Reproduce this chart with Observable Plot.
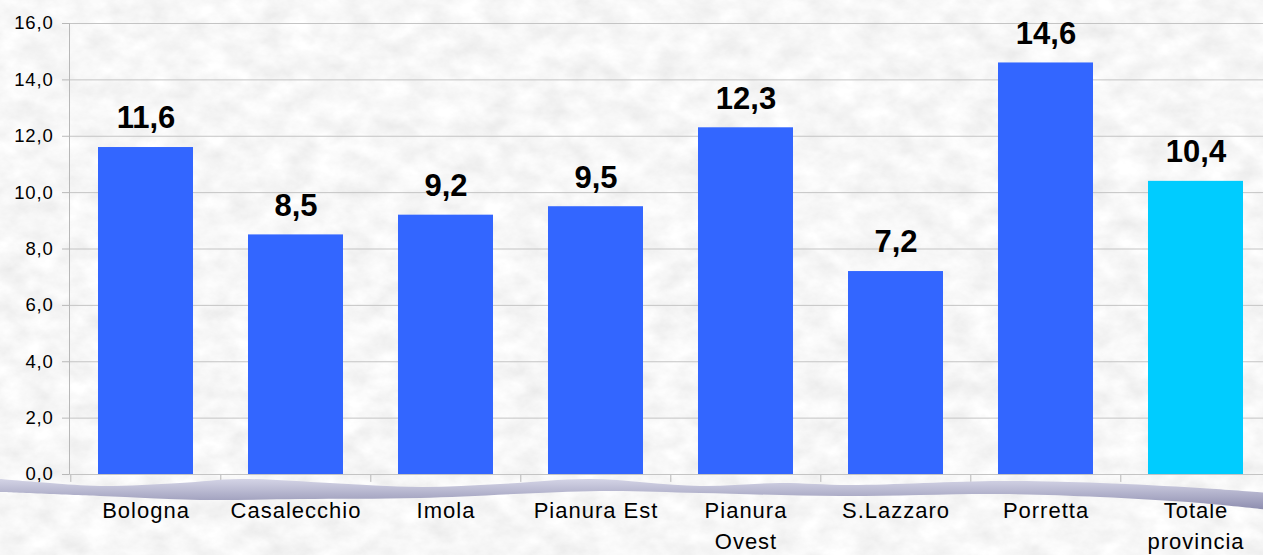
<!DOCTYPE html>
<html>
<head>
<meta charset="utf-8">
<script src="https://cdn.jsdelivr.net/npm/d3@7"></script>
<script src="https://cdn.jsdelivr.net/npm/@observablehq/plot@0.6"></script>
<style>
  html, body { margin: 0; padding: 0; background: #ececec; overflow: hidden; }
  #chart svg { display: block; }
  g[aria-label="x-axis tick label"] text { letter-spacing: 1px; }
  g[aria-label="y-axis tick label"] text { letter-spacing: 0.8px; }
</style>
</head>
<body>
<div id="chart"></div>
<script>
// ---- data ----
const categories = ["Bologna", "Casalecchio", "Imola", "Pianura Est", "Pianura Ovest", "S.Lazzaro", "Porretta", "Totale provincia"];
const values = [11.6, 8.5, 9.2, 9.5, 12.3, 7.2, 14.6, 10.4];
const groups = ["Distretto", "Distretto", "Distretto", "Distretto", "Distretto", "Distretto", "Distretto", "Provincia"];
const tickLabels = ["Bologna", "Casalecchio", "Imola", "Pianura Est", "Pianura\nOvest", "S.Lazzaro", "Porretta", "Totale\nprovincia"];
const yTicks = [0, 2, 4, 6, 8, 10, 12, 14, 16];

const data = categories.map((c, i) => ({category: c, value: values[i], group: groups[i]}));
const fmt = v => v.toFixed(1).replace(".", ",");

const W = 1263, H = 555;
const xRange = [41.6, 1300];
const pad = 0.368;
const step = (xRange[1] - xRange[0]) / (categories.length + pad);

const chart = Plot.plot({
  width: W,
  height: H,
  marginLeft: 69,
  marginRight: 0,
  marginTop: 23,
  marginBottom: 81,
  style: {fontFamily: "'Liberation Sans', Arial, sans-serif", background: "transparent", color: "black", overflow: "visible"},
  x: {domain: categories, range: xRange, padding: pad, label: null},
  y: {domain: [0, 16], label: null},
  color: {domain: ["Distretto", "Provincia"], range: ["#3366FF", "#00CCFF"]},
  marks: [
    Plot.gridY({ticks: yTicks, stroke: "#c4c4c4", strokeOpacity: 1}),
    Plot.frame({anchor: "left", stroke: "#b8b8b8"}),
    Plot.axisY({ticks: yTicks, tickFormat: fmt, tickSize: 7, tickPadding: 9, fontSize: 18.5, stroke: "#b8b8b8", label: null}),
    Plot.ruleX(categories, {x: d => d, y1: 0, y2: -0.28, dx: -step / 2, stroke: "#b8b8b8"}),
    Plot.ruleY([0], {stroke: "#c4c4c4"}),
    Plot.barY(data, {x: "category", y: "value", fill: "group"}),
    Plot.text(data, {x: "category", y: "value", text: d => fmt(d.value), dy: -29, fontSize: 31, fontWeight: "bold", fill: "black"}),
    Plot.axisX({tickSize: 0, tickPadding: 21, fontSize: 22, lineHeight: 1.42, label: null,
      tickFormat: d => tickLabels[categories.indexOf(d)]})
  ]
});

document.getElementById("chart").appendChild(chart);

// ---- decoration: marble background and wavy ribbon ----
const svg = d3.select(chart);
const defs = svg.insert("defs", ":first-child");
const f = defs.append("filter").attr("id", "marble").attr("x", 0).attr("y", 0).attr("width", 1).attr("height", 1);
f.append("feTurbulence").attr("type", "fractalNoise").attr("baseFrequency", "0.035 0.05").attr("numOctaves", 5).attr("seed", 7);
f.append("feColorMatrix").attr("type", "matrix")
  .attr("values", "0.24 0 0 0 0.81  0.24 0 0 0 0.81  0.24 0 0 0 0.81  0 0 0 0 1");
const g = defs.append("linearGradient").attr("id", "ribbon").attr("x1", 0).attr("y1", 0).attr("x2", 0).attr("y2", 1);
g.append("stop").attr("offset", "0%").attr("stop-color", "#d4d4e6");
g.append("stop").attr("offset", "100%").attr("stop-color", "#8c8cae");

svg.insert("rect", "defs + *").attr("x", 0).attr("y", 0).attr("width", W).attr("height", H).attr("filter", "url(#marble)");

const topEdge = [[0, 479], [50, 483], [100, 486], [180, 483], [240, 479], [330, 483], [420, 487], [500, 484], [590, 479], [700, 486], [780, 483], [850, 485], [1000, 481], [1100, 483], [1200, 488], [1270, 493]];
const botEdge = [[1270, 510], [1200, 503], [1100, 497], [1000, 494], [840, 496], [700, 493], [600, 491], [420, 498], [300, 499], [200, 500], [100, 496], [0, 492]];
const line = d3.line().curve(d3.curveCatmullRom);
const pathD = line(topEdge) + "L" + line(botEdge).slice(1) + "Q-6,486 0,479Z";
svg.append("path").attr("d", pathD).attr("fill", "url(#ribbon)");
</script>
</body>
</html>
